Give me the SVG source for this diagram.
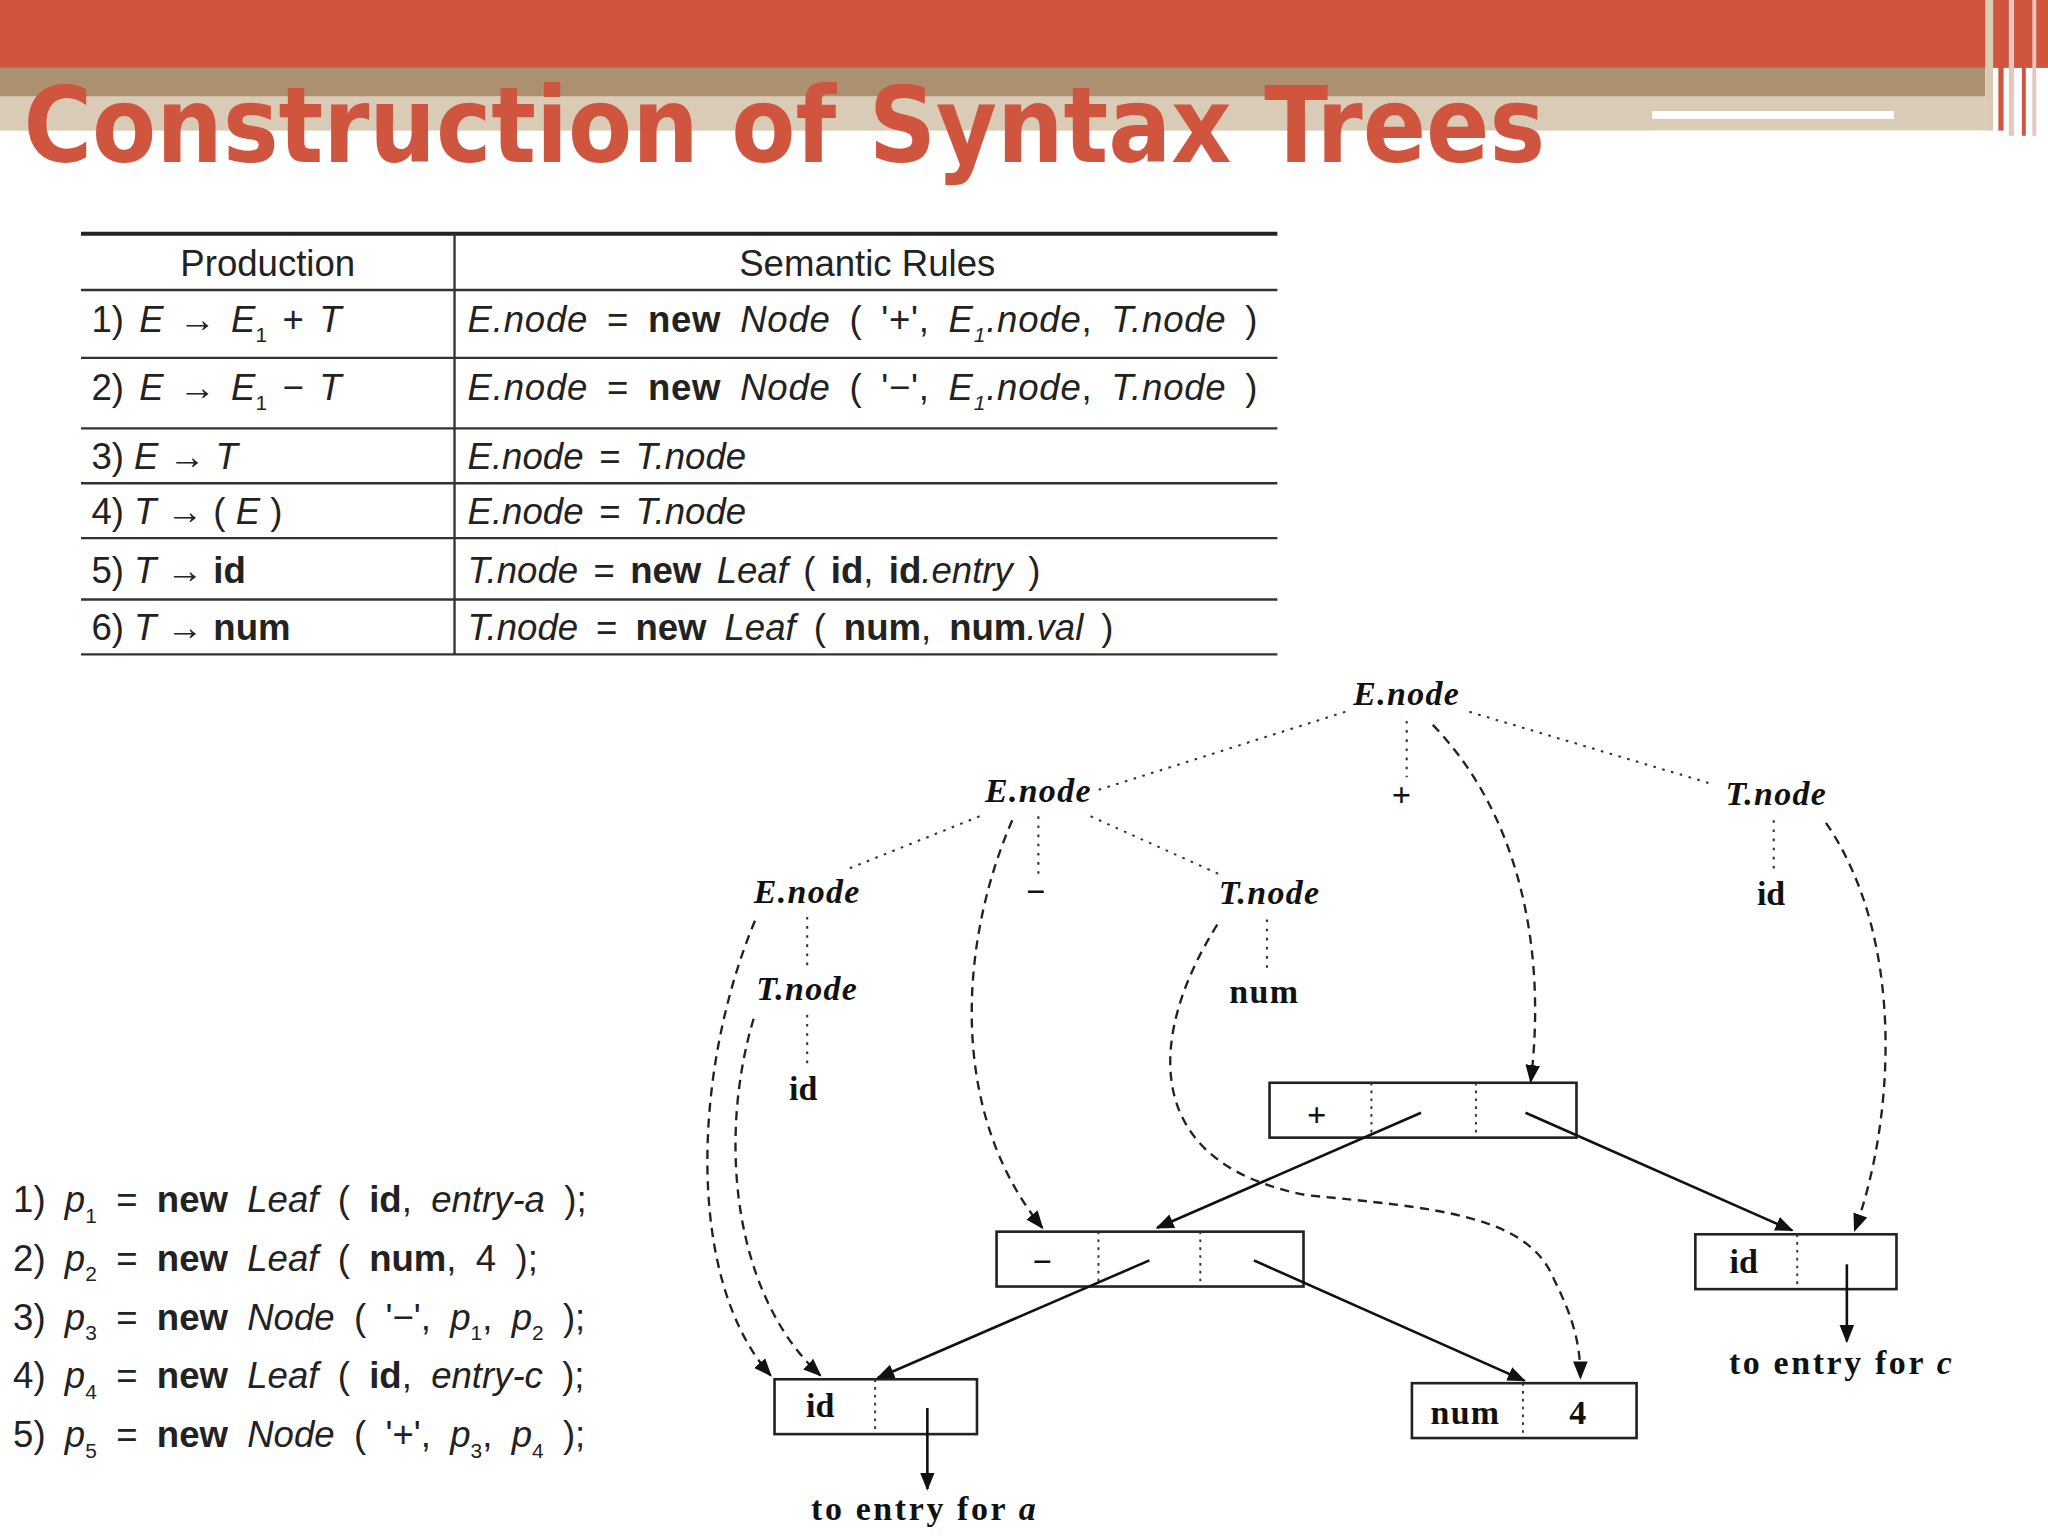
<svg xmlns="http://www.w3.org/2000/svg" width="2048" height="1536" viewBox="0 0 2048 1536">
<style>
.t{font-family:"Liberation Sans",Arial,sans-serif;font-size:28px;fill:#222}
.s{font-family:"Liberation Serif","DejaVu Serif",serif;font-size:26px;font-weight:bold;fill:#111}
.si{font-family:"Liberation Serif","DejaVu Serif",serif;font-size:26px;font-weight:bold;font-style:italic;fill:#111}
.rl{stroke:#333;stroke-width:1.8}
.dot{stroke:#333;stroke-width:1.6;stroke-dasharray:2 5;fill:none}
.dash{stroke:#222;stroke-width:1.8;stroke-dasharray:7 5;fill:none}
.sol{stroke:#111;stroke-width:2;fill:none}
.box{fill:#fff;stroke:#222;stroke-width:2}
.div{stroke:#333;stroke-width:1.5;stroke-dasharray:2 4}
</style>
<defs>
<marker id="ah2" viewBox="0 0 10 10" refX="9" refY="5" markerWidth="14" markerHeight="14" orient="auto" markerUnits="userSpaceOnUse"><path d="M0,1 L10,5 L0,9 z" fill="#111"/></marker>
</defs>
<rect width="2048" height="1536" fill="#fff"/>
<g transform="scale(1.30612)">
<g id="banner">
<rect x="0" y="0" width="1568" height="52" fill="#D0553F"/>
<rect x="0" y="52" width="1520" height="22" fill="#AC9170"/>
<rect x="0" y="74" width="1520" height="26" fill="#D9CBB6"/>
<rect x="1265" y="85" width="185" height="6" fill="#fff"/>
<rect x="1265" y="100" width="255" height="4" fill="#fff"/>
<rect x="1520" y="0" width="6" height="100" fill="#D9CBB6"/>
<rect x="1530" y="0" width="4" height="100" fill="#D0553F"/>
<rect x="1538" y="0" width="4" height="104" fill="#E5C7BD"/>
<rect x="1548" y="0" width="3" height="104" fill="#D0553F"/>
<rect x="1556" y="0" width="3" height="104" fill="#E5C7BD"/>
<text x="18" y="124" font-family="DejaVu Sans Condensed,DejaVu Sans,sans-serif" font-weight="bold" font-size="80" fill="#D0553F" textLength="1165" lengthAdjust="spacingAndGlyphs">Construction of Syntax Trees</text>
</g>
<g id="table">
<line x1="62" y1="179" x2="978" y2="179" stroke="#222" stroke-width="3"/>
<line x1="348" y1="179" x2="348" y2="501" class="rl"/>
<g class="rl">
<line x1="62" y1="222" x2="978" y2="222"/><line x1="62" y1="274" x2="978" y2="274"/>
<line x1="62" y1="328" x2="978" y2="328"/><line x1="62" y1="370" x2="978" y2="370"/>
<line x1="62" y1="412" x2="978" y2="412"/><line x1="62" y1="459" x2="978" y2="459"/>
<line x1="62" y1="501" x2="978" y2="501"/>
</g>
<text class="t" x="205" y="211" text-anchor="middle">Production</text>
<text class="t" x="664" y="211" text-anchor="middle">Semantic Rules</text>
<text class="t" x="70" y="254" word-spacing="4">1) <tspan font-style="italic">E</tspan> → <tspan font-style="italic">E</tspan><tspan font-size="16" dy="8">1</tspan><tspan dy="-8"> + </tspan><tspan font-style="italic">T</tspan></text>
<text class="t" x="70" y="306" word-spacing="4">2) <tspan font-style="italic">E</tspan> → <tspan font-style="italic">E</tspan><tspan font-size="16" dy="8">1</tspan><tspan dy="-8"> − </tspan><tspan font-style="italic">T</tspan></text>
<text class="t" x="70" y="359">3) <tspan font-style="italic">E</tspan> → <tspan font-style="italic">T</tspan></text>
<text class="t" x="70" y="401">4) <tspan font-style="italic">T</tspan> → ( <tspan font-style="italic">E</tspan> )</text>
<text class="t" x="70" y="446">5) <tspan font-style="italic">T</tspan> → <tspan font-weight="bold">id</tspan></text>
<text class="t" x="70" y="490">6) <tspan font-style="italic">T</tspan> → <tspan font-weight="bold">num</tspan></text>
<text class="t" x="358" y="254" word-spacing="6" letter-spacing="0.6"><tspan font-style="italic">E.node</tspan> = <tspan font-weight="bold">new</tspan> <tspan font-style="italic">Node</tspan> ( '+', <tspan font-style="italic">E</tspan><tspan font-size="16" font-style="italic" dy="8">1</tspan><tspan font-style="italic" dy="-8">.node</tspan>, <tspan font-style="italic">T.node</tspan> )</text>
<text class="t" x="358" y="306" word-spacing="6" letter-spacing="0.6"><tspan font-style="italic">E.node</tspan> = <tspan font-weight="bold">new</tspan> <tspan font-style="italic">Node</tspan> ( '−', <tspan font-style="italic">E</tspan><tspan font-size="16" font-style="italic" dy="8">1</tspan><tspan font-style="italic" dy="-8">.node</tspan>, <tspan font-style="italic">T.node</tspan> )</text>
<text class="t" x="358" y="359" font-style="italic" word-spacing="4">E.node = T.node</text>
<text class="t" x="358" y="401" font-style="italic" word-spacing="4">E.node = T.node</text>
<text class="t" x="358" y="446" word-spacing="4"><tspan font-style="italic">T.node</tspan> = <tspan font-weight="bold">new</tspan> <tspan font-style="italic">Leaf</tspan> ( <tspan font-weight="bold">id</tspan>, <tspan font-weight="bold">id</tspan><tspan font-style="italic">.entry</tspan> )</text>
<text class="t" x="358" y="490" word-spacing="6"><tspan font-style="italic">T.node</tspan> = <tspan font-weight="bold">new</tspan> <tspan font-style="italic">Leaf</tspan> ( <tspan font-weight="bold">num</tspan>, <tspan font-weight="bold">num</tspan><tspan font-style="italic">.val</tspan> )</text>
</g>
<g id="steps">
<text class="t" x="10" y="928" word-spacing="7">1) <tspan font-style="italic">p</tspan><tspan font-size="16" dy="8">1</tspan><tspan dy="-8"> = </tspan><tspan font-weight="bold">new</tspan> <tspan font-style="italic">Leaf</tspan> ( <tspan font-weight="bold">id</tspan>, <tspan font-style="italic">entry-a</tspan> );</text>
<text class="t" x="10" y="973" word-spacing="7">2) <tspan font-style="italic">p</tspan><tspan font-size="16" dy="8">2</tspan><tspan dy="-8"> = </tspan><tspan font-weight="bold">new</tspan> <tspan font-style="italic">Leaf</tspan> ( <tspan font-weight="bold">num</tspan>, 4 );</text>
<text class="t" x="10" y="1018" word-spacing="7">3) <tspan font-style="italic">p</tspan><tspan font-size="16" dy="8">3</tspan><tspan dy="-8"> = </tspan><tspan font-weight="bold">new</tspan> <tspan font-style="italic">Node</tspan> ( '−', <tspan font-style="italic">p</tspan><tspan font-size="16" dy="8">1</tspan><tspan dy="-8">, </tspan><tspan font-style="italic">p</tspan><tspan font-size="16" dy="8">2</tspan><tspan dy="-8"> );</tspan></text>
<text class="t" x="10" y="1063" word-spacing="7">4) <tspan font-style="italic">p</tspan><tspan font-size="16" dy="8">4</tspan><tspan dy="-8"> = </tspan><tspan font-weight="bold">new</tspan> <tspan font-style="italic">Leaf</tspan> ( <tspan font-weight="bold">id</tspan>, <tspan font-style="italic">entry-c</tspan> );</text>
<text class="t" x="10" y="1108" word-spacing="7">5) <tspan font-style="italic">p</tspan><tspan font-size="16" dy="8">5</tspan><tspan dy="-8"> = </tspan><tspan font-weight="bold">new</tspan> <tspan font-style="italic">Node</tspan> ( '+', <tspan font-style="italic">p</tspan><tspan font-size="16" dy="8">3</tspan><tspan dy="-8">, </tspan><tspan font-style="italic">p</tspan><tspan font-size="16" dy="8">4</tspan><tspan dy="-8"> );</tspan></text>
</g>
<g id="parse-labels">
<text class="si" x="1077" y="540" text-anchor="middle" letter-spacing="1">E.node</text>
<text class="si" x="795" y="614" text-anchor="middle" letter-spacing="1">E.node</text>
<text class="s" x="1073" y="617" text-anchor="middle" font-size="30">+</text>
<text class="si" x="1360" y="616" text-anchor="middle" letter-spacing="1">T.node</text>
<text class="si" x="618" y="691" text-anchor="middle" letter-spacing="1">E.node</text>
<text class="s" x="793" y="691" text-anchor="middle" font-size="30">−</text>
<text class="si" x="972" y="692" text-anchor="middle" letter-spacing="1">T.node</text>
<text class="s" x="1356" y="693" text-anchor="middle">id</text>
<text class="si" x="618" y="766" text-anchor="middle" letter-spacing="1">T.node</text>
<text class="s" x="968" y="768" text-anchor="middle" letter-spacing="1">num</text>
<text class="s" x="615" y="842" text-anchor="middle">id</text>
</g>
<g id="box-plus"><rect class="box" x="972" y="829" width="235" height="42"/><line class="div" x1="1050" y1="829" x2="1050" y2="871"/><line class="div" x1="1130" y1="829" x2="1130" y2="871"/><text class="s" x="1008" y="862" text-anchor="middle" font-size="32">+</text></g>
<g id="box-minus"><rect class="box" x="763" y="943" width="235" height="42"/><line class="div" x1="841" y1="943" x2="841" y2="985"/><line class="div" x1="919" y1="943" x2="919" y2="985"/><text class="s" x="798" y="975" text-anchor="middle" font-size="32">−</text></g>
<g id="box-idc"><rect class="box" x="1298" y="945" width="154" height="42"/><line class="div" x1="1376" y1="945" x2="1376" y2="987"/><text class="s" x="1335" y="975" text-anchor="middle">id</text></g>
<g id="box-ida"><rect class="box" x="593" y="1056" width="155" height="42"/><line class="div" x1="670" y1="1056" x2="670" y2="1098"/><text class="s" x="628" y="1085" text-anchor="middle">id</text></g>
<g id="box-num"><rect class="box" x="1081" y="1059" width="172" height="42"/><line class="div" x1="1166" y1="1059" x2="1166" y2="1101"/><text class="s" x="1122" y="1090" text-anchor="middle" letter-spacing="1">num</text><text class="s" x="1208" y="1090" text-anchor="middle">4</text></g>
<g id="notes">
<text class="s" x="1410" y="1052" text-anchor="middle" font-weight="normal" font-size="24" letter-spacing="2">to entry for <tspan font-style="italic" font-weight="bold">c</tspan></text>
<text class="s" x="708" y="1164" text-anchor="middle" font-weight="normal" font-size="24" letter-spacing="2">to entry for <tspan font-style="italic" font-weight="bold">a</tspan></text>
</g>
<g id="connectors">
<path class="dot" d="M1030,545 L840,605"/>
<path class="dot" d="M1125,545 L1310,600"/>
<path class="dot" d="M1077,552 L1077,595"/>
<path class="dot" d="M750,625 L650,665"/>
<path class="dot" d="M795,625 L795,672"/>
<path class="dot" d="M835,625 L935,670"/>
<path class="dot" d="M1358,628 L1358,670"/>
<path class="dot" d="M618,702 L618,742"/>
<path class="dot" d="M970,704 L970,745"/>
<path class="dot" d="M618,777 L618,818"/>
<path class="dash" marker-end="url(#ah2)" d="M1097,555 C1160,620 1185,720 1172,828"/>
<path class="dash" marker-end="url(#ah2)" d="M775,628 C735,720 725,850 798,940"/>
<path class="dash" marker-end="url(#ah2)" d="M578,705 C530,820 525,980 590,1053"/>
<path class="dash" marker-end="url(#ah2)" d="M577,780 C550,870 560,990 628,1053"/>
<path class="dash" marker-end="url(#ah2)" d="M932,708 C880,790 870,890 1000,915 C1100,925 1170,930 1190,980 C1205,1010 1210,1030 1210,1055"/>
<path class="dash" marker-end="url(#ah2)" d="M1398,630 C1460,720 1450,860 1420,942"/>
<path class="sol" marker-end="url(#ah2)" d="M1088,852 L886,940"/>
<path class="sol" marker-end="url(#ah2)" d="M1168,852 L1372,942"/>
<path class="sol" marker-end="url(#ah2)" d="M880,965 L672,1055"/>
<path class="sol" marker-end="url(#ah2)" d="M960,965 L1167,1057"/>
<path class="sol" marker-end="url(#ah2)" d="M1414,968 L1414,1027"/>
<path class="sol" marker-end="url(#ah2)" d="M710,1078 L710,1140"/>
</g>
</g>
</svg>
